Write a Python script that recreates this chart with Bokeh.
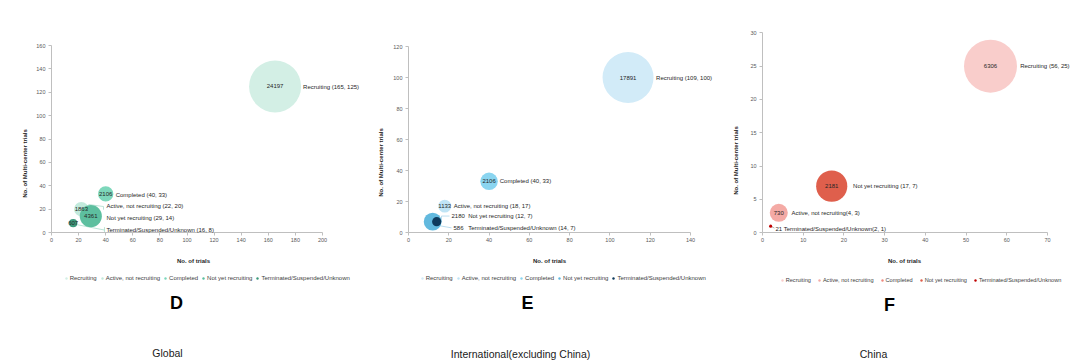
import math
from bokeh.plotting import figure
from bokeh.models import (ColumnDataSource, Label, Legend, LegendItem,
                          SingleIntervalTicker, Range1d)
from bokeh.layouts import row
from bokeh.embed import file_html
from bokeh.resources import INLINE

# ---------------- data ----------------
categories = ["Recruiting", "Active, not recruiting", "Completed",
              "Not yet recruiting", "Terminated/Suspended/Unknown"]

global_trials = [165, 22, 40, 29, 16]
global_multicenter = [125, 20, 33, 14, 8]
global_participants = [24197, 1863, 2106, 4361, 607]

intl_trials = [109, 18, 40, 12, 14]
intl_multicenter = [100, 17, 33, 7, 7]
intl_participants = [17891, 1133, 2106, 2180, 586]

china_trials = [56, 4, None, 17, 2]
china_multicenter = [25, 3, None, 7, 1]
china_participants = [6306, 730, None, 2181, 21]

x_title = "No. of trials"
y_title = "No. of Multi-center trials"
panel_letters = ["D", "E", "F"]
panel_captions = ["Global", "International(excluding China)", "China"]

FONT = "Liberation Sans"
FIG_H = 361

# ---------------- layout / style ----------------
# frame_* give the pixel box of the axes area (x: 0..xmax, y: 0..ymax)
panels = [
    dict(xs=global_trials, ys=global_multicenter, vs=global_participants,
         page_x0=0, fig_w=360, frame_left=51, frame_top=45, frame_w=271, frame_h=187,
         xmax=200, ymax=160, xstep=20, ystep=20, max_diam=52,
         colors=["#d3efe5", "#c2eadc", "#7dd7bb", "#5dbf9f", "#3d9a7c"],
         leader_color="#a8dccb",
         seps=[" ", " ", " ", " ", " "], num_inline=[False] * 5,
         name_off=[(28, 1), (25.2, -2.9), (10, 0.6), (15.7, 1.4), (33.3, 6.4)],
         num_off=[(0, 0, "center")] * 5,
         leaders=[None, [[(7.2, -4.6), (22.2, -2.6), (22.2, 0.6)]], None, None,
                  [[(3.3, 1.4), (31.3, 6.9)], [(31.3, 4.0), (31.3, 9.0)]]],
         legend_left=62.7, legend_bottom=281, legend_font="6px", legend_spacing=2,
         xtitle_pos=(193, 260), ytitle_pos=(24, 163), letter_pos=(176, 302),
         caption_pos=(167, 352)),
    dict(xs=intl_trials, ys=intl_multicenter, vs=intl_participants,
         page_x0=360, fig_w=360, frame_left=408, frame_top=46, frame_w=282, frame_h=186,
         xmax=140, ymax=120, xstep=20, ystep=20, max_diam=51,
         colors=["#d2ebf8", "#bfe4f5", "#8ad5f0", "#62b9de", "#0e3a5c"],
         leader_color="#a9d4ea",
         seps=[" ", " ", " ", " ", " "], num_inline=[False] * 5,
         name_off=[(28, 0), (9, 0), (10.7, 0), (35.5, -5.6), (31.5, 6.2)],
         num_off=[(0, 0, "center"), (0, 0, "center"), (0, 0, "center"),
                  (18.8, -5.6, "left"), (16.8, 6.2, "left")],
         leaders=[None, None, None, [[(8.8, -0.1), (8.8, -5.6), (16.8, -5.6)]],
                  [[(1.8, 3.9), (14.8, 6.2)]]],
         legend_left=418.7, legend_bottom=281, legend_font="6px", legend_spacing=2,
         xtitle_pos=(549, 260), ytitle_pos=(380, 162), letter_pos=(527, 302),
         caption_pos=(520, 353)),
    dict(xs=china_trials, ys=china_multicenter, vs=china_participants,
         page_x0=720, fig_w=360, frame_left=762, frame_top=32.3, frame_w=285, frame_h=200,
         xmax=70, ymax=30, xstep=10, ystep=5, max_diam=53,
         colors=["#f9cdcb", "#f4aaa5", "#ef8a80", "#df5f4c", "#c00000"],
         leader_color="#a0a0a0",
         seps=[" ", "", " ", " ", ""], num_inline=[False, False, False, False, True],
         name_off=[(29.7, 0), (12.7, 0.3), None, (21.4, 0), (4.8, 2.4)],
         num_off=[(0, 0, "center")] * 5,
         leaders=[None, None, None, None, [[(1.4, 0.8), (3.8, 1.9)]]],
         legend_left=778.7, legend_bottom=282.8, legend_font="5.6px", legend_spacing=5,
         xtitle_pos=(904, 260), ytitle_pos=(735, 160), letter_pos=(889, 304),
         caption_pos=(873, 353)),
]


def make_panel(cfg, letter, caption):
    fl, ft, fw, fh = cfg["frame_left"], cfg["frame_top"], cfg["frame_w"], cfg["frame_h"]
    xmax, ymax = cfg["xmax"], cfg["ymax"]
    x0, W = cfg["page_x0"], cfg["fig_w"]
    kx, ky = fw / xmax, fh / ymax
    Y0 = ft + fh

    def to_px(x, y):
        return fl + x * kx, Y0 - y * ky

    def to_data(px, py):
        return (px - fl) / kx, (Y0 - py) / ky

    p = figure(width=W, height=FIG_H,
               x_range=Range1d((x0 - fl) / kx, (x0 + W - fl) / kx),
               y_range=Range1d((Y0 - FIG_H) / ky, Y0 / ky),
               output_backend="svg", toolbar_location=None, min_border=0,
               background_fill_color="white", border_fill_color="white")
    p.outline_line_color = None
    p.xgrid.visible = False
    p.ygrid.visible = False
    p.xaxis.ticker = SingleIntervalTicker(interval=cfg["xstep"], num_minor_ticks=0)
    p.yaxis.ticker = SingleIntervalTicker(interval=cfg["ystep"], num_minor_ticks=0)
    p.xaxis.fixed_location = 0
    p.yaxis.fixed_location = 0
    p.xaxis.bounds = (0, xmax)
    p.yaxis.bounds = (0, ymax)
    for ax in (p.xaxis, p.yaxis):
        ax.axis_line_color = "#bfbfbf"
        ax.major_tick_line_color = "#bfbfbf"
        ax.major_tick_out = 3
        ax.major_tick_in = 0
        ax.minor_tick_line_color = None
        ax.major_label_text_font = FONT
        ax.major_label_text_font_size = "5.5px"
        ax.major_label_text_color = "#595959"
    p.xaxis.major_label_standoff = 2
    p.yaxis.major_label_standoff = 3

    # leader lines (drawn under bubbles)
    for i, leads in enumerate(cfg["leaders"]):
        if not leads or cfg["xs"][i] is None:
            continue
        cx, cy = to_px(cfg["xs"][i], cfg["ys"][i])
        for pts in leads:
            dpts = [to_data(cx + dx, cy + dy) for dx, dy in pts]
            p.line([d[0] for d in dpts], [d[1] for d in dpts],
                   line_color=cfg["leader_color"], line_width=0.8)

    vmax = max(v for v in cfg["vs"] if v is not None)
    items = []
    for i, cat in enumerate(categories):
        x, y, v = cfg["xs"][i], cfg["ys"][i], cfg["vs"][i]
        if x is None:
            # series present in the legend but without a bubble
            src = ColumnDataSource(dict(x=[float("nan")], y=[float("nan")], s=[0.0]))
        else:
            src = ColumnDataSource(dict(x=[x], y=[y],
                                        s=[cfg["max_diam"] * math.sqrt(v / vmax)]))
        r = p.scatter("x", "y", size="s", source=src, fill_color=cfg["colors"][i],
                      line_color=None)
        items.append(LegendItem(label=cat, renderers=[r]))

    # bubble labels
    for i, cat in enumerate(categories):
        x, y, v = cfg["xs"][i], cfg["ys"][i], cfg["vs"][i]
        if x is None:
            continue
        cx, cy = to_px(x, y)
        name = f"{cat}{cfg['seps'][i]}({x}, {y})"
        if cfg["num_inline"][i]:
            name = f"{v} " + name
        else:
            dx, dy, al = cfg["num_off"][i]
            lx, ly = to_data(cx + dx, cy + dy)
            p.add_layout(Label(x=lx, y=ly, text=str(v), text_align=al,
                               text_baseline="middle", text_font=FONT,
                               text_font_size="6px", text_color="#262626"))
        dx, dy = cfg["name_off"][i]
        lx, ly = to_data(cx + dx, cy + dy)
        p.add_layout(Label(x=lx, y=ly, text=name, text_align="left",
                           text_baseline="middle", text_font=FONT,
                           text_font_size="6px", text_color="#262626"))

    legend = Legend(items=items, orientation="horizontal",
                    location=(cfg["legend_left"] - x0, FIG_H - cfg["legend_bottom"]),
                    padding=0, margin=0, spacing=cfg["legend_spacing"],
                    glyph_width=6, glyph_height=6, label_standoff=1,
                    label_text_font=FONT, label_text_font_size=cfg["legend_font"],
                    label_text_color="#404040", label_height=6, label_width=0,
                    border_line_color=None, background_fill_alpha=0)
    p.add_layout(legend)

    # titles and captions
    tx, ty = to_data(*cfg["xtitle_pos"])
    p.add_layout(Label(x=tx, y=ty, text=x_title, text_align="center",
                       text_baseline="middle", text_font=FONT, text_font_size="6px",
                       text_font_style="bold", text_color="#262626"))
    tx, ty = to_data(*cfg["ytitle_pos"])
    p.add_layout(Label(x=tx, y=ty, text=y_title, text_align="center", angle=math.pi / 2,
                       text_baseline="middle", text_font=FONT, text_font_size="6px",
                       text_font_style="bold", text_color="#262626"))
    tx, ty = to_data(*cfg["letter_pos"])
    p.add_layout(Label(x=tx, y=ty, text=letter, text_align="center",
                       text_baseline="middle", text_font=FONT, text_font_size="18px",
                       text_font_style="bold", text_color="#000000"))
    tx, ty = to_data(*cfg["caption_pos"])
    p.add_layout(Label(x=tx, y=ty, text=caption, text_align="center",
                       text_baseline="middle", text_font=FONT, text_font_size="10.5px",
                       text_color="#1a1a1a"))
    return p


figs = [make_panel(cfg, L, c) for cfg, L, c in zip(panels, panel_letters, panel_captions)]
layout = row(*figs, spacing=0)
open("out.html", "w").write(file_html(layout, INLINE))
